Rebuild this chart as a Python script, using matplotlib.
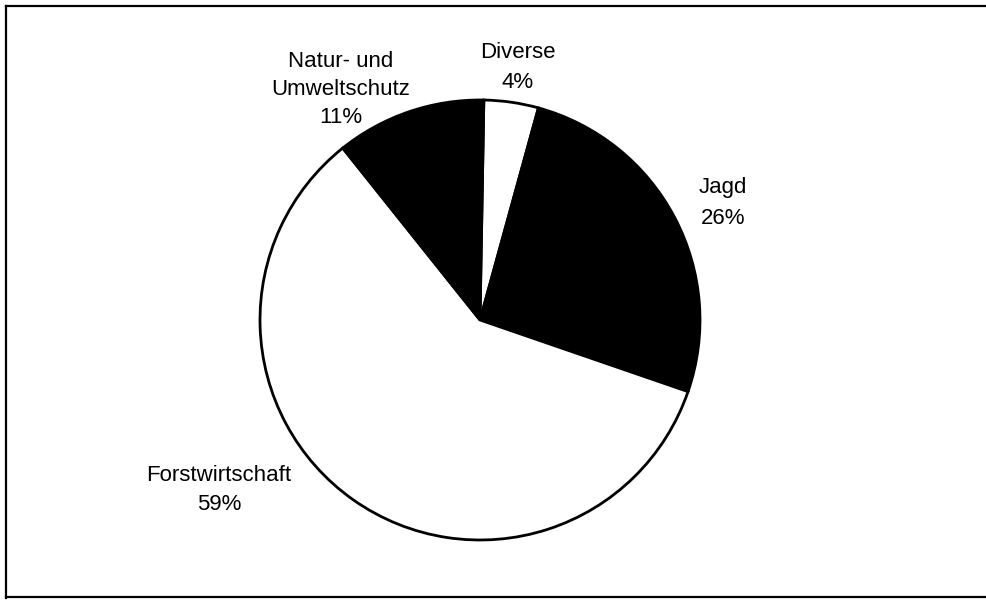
#plot.py

#COMMENT: Imports.

import matplotlib as mpl;
import matplotlib.pyplot as plt;

#COMMENT: Data (clockwise from the top).

categories = ["Diverse", "Jagd", "Forstwirtschaft", "Natur- und\nUmweltschutz"];
shares = [4, 26, 59, 11];
colours = ['white', 'black', 'white', 'black'];

#COMMENT: Label x centre and baselines of each line, in pixels from the top.

labelX = [518, 723, 219, 341];
labelBaselines = [[58, 88], [193, 224], [481, 510], [67, 95, 123]];

mpl.rc('font', **{ 'family' : 'sans-serif', 'sans-serif' : ['Liberation Sans', 'DejaVu Sans'], 'size' : 16 });

W, H = 986, 601;
fig = plt.figure(figsize = (W / 100, H / 100), dpi = 100);
ax = fig.add_axes([0, 0, 1, 1]);

#COMMENT: Pie.

ax.pie(shares, colors = colours, startangle = 89, counterclock = False,
       center = (480, H - 320), radius = 220, frame = True,
       wedgeprops = { 'edgecolor' : 'black', 'linewidth' : 2.0 });
ax.set_xlim(0, W);
ax.set_ylim(0, H);
ax.set_aspect('equal');
ax.axis('off');

#COMMENT: Labels, one text per line.

for cat, val, lx, bases in zip(categories, shares, labelX, labelBaselines):
    lines = cat.split("\n") + [str(val) + "%"];
    for line, by in zip(lines, bases):
        ax.text(lx, H - by, line, ha = 'center', va = 'baseline', fontsize = 16);

#COMMENT: Frame (top, left, bottom).

ax.plot([6, W], [H - 6, H - 6], color = 'black', linewidth = 1.6);
ax.plot([6, 6], [H - 6, H - 598], color = 'black', linewidth = 1.6);
ax.plot([6, W], [H - 597, H - 597], color = 'black', linewidth = 1.6);

plt.savefig("out.png", format = 'png', dpi = 100);
plt.close();
